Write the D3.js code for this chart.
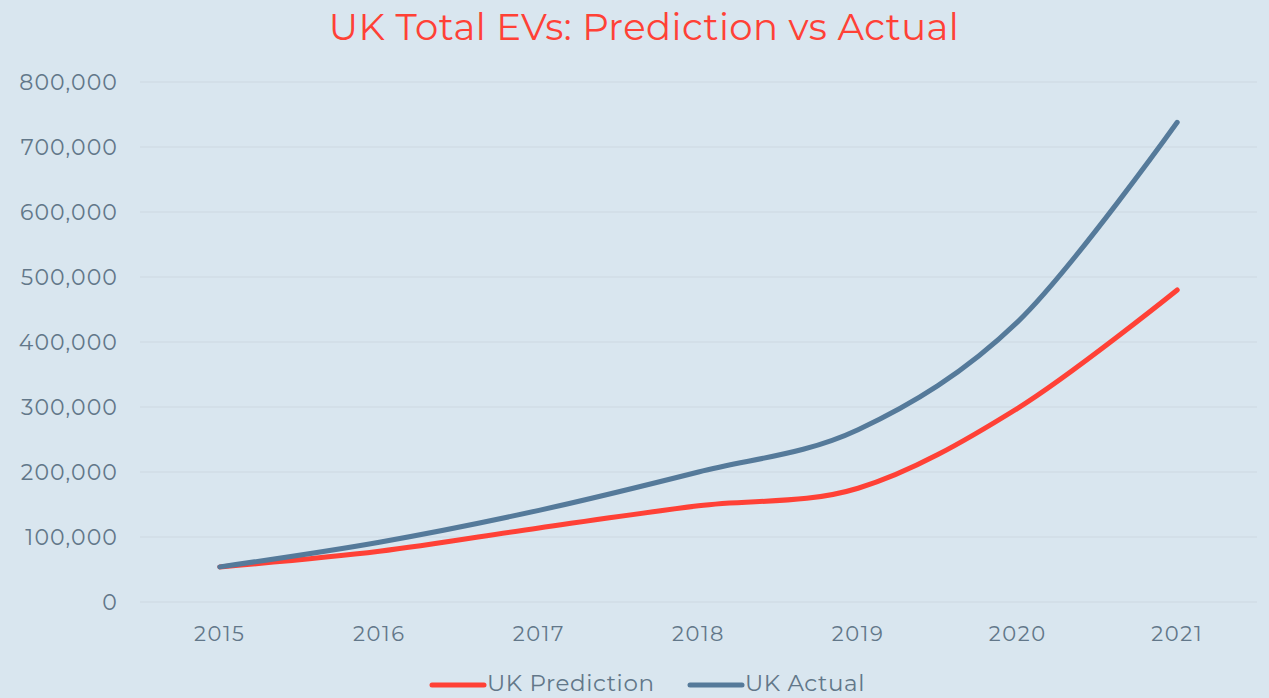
<!DOCTYPE html>
<html><head><meta charset="utf-8">
<script src="https://cdn.jsdelivr.net/npm/d3@7"></script>
<style>html,body{margin:0;padding:0;background:#d9e6ef;overflow:hidden}</style>
</head><body><svg id="c" width="1269" height="698"></svg>
<script>
const years = ["2015","2016","2017","2018","2019","2020","2021"];
const prediction = [54000, 78000, 114000, 148000, 175000, 298000, 480000];
const actual = [54000, 92000, 141000, 200000, 265000, 431000, 738000];
const yTicks = [0,100000,200000,300000,400000,500000,600000,700000,800000];
const seriesNames = ["UK Prediction","UK Actual"];
const colors = ["#ff4136","#557a9a"];

const svg = d3.select("#c");
const W=1269,H=698;
svg.append("rect").attr("width",W).attr("height",H).attr("fill","#d9e6ef");
const font = "Montserrat, 'Noto Sans', sans-serif";
const x = d3.scaleBand().domain(years).range([140,1257]);
const y = d3.scaleLinear().domain([0,800000]).range([602,82]);

// gridlines
svg.append("g").selectAll("line").data(yTicks).join("line")
  .attr("x1",140).attr("x2",1257).attr("y1",d=>y(d)).attr("y2",d=>y(d))
  .attr("stroke","#d0dde6").attr("stroke-width",1.5);

// y axis
const yAxis = d3.axisLeft(y).tickValues(yTicks).tickFormat(d3.format(",")).tickSize(0).tickPadding(0);
const gy = svg.append("g").attr("transform","translate(118,0)").call(yAxis);
gy.select(".domain").remove();
gy.selectAll("text").attr("font-family",font).attr("font-size",22).attr("letter-spacing",1.1).attr("fill","#627789");

// x axis
const xAxis = d3.axisBottom(x).tickSize(0).tickPadding(0);
const gx = svg.append("g").attr("transform","translate(0,626)").call(xAxis);
gx.select(".domain").remove();
gx.selectAll("text").attr("font-family",font).attr("font-size",21).attr("letter-spacing",1.6).attr("fill","#627789").attr("dy","0.71em");

const line = d3.line().x((d,i)=>x(years[i])+x.bandwidth()/2).y(d=>y(d)).curve(d3.curveCatmullRom.alpha(0));
[prediction, actual].forEach((s,i)=>{
  svg.append("path").attr("d",line(s)).attr("fill","none").attr("stroke",colors[i])
    .attr("stroke-width",5).attr("stroke-linecap","round").attr("stroke-linejoin","round");
});

// title
svg.append("text").attr("x",644).attr("y",40).attr("text-anchor","middle")
  .attr("font-family",font).attr("font-size",37).attr("letter-spacing",0.45).attr("fill","#ff4136")
  .text("UK Total EVs: Prediction vs Actual");

// legend
const leg = [{x:430},{x:688}];
seriesNames.forEach((n,i)=>{
  const g = svg.append("g");
  g.append("line").attr("x1",leg[i].x+2).attr("x2",leg[i].x+54).attr("y1",685).attr("y2",685)
    .attr("stroke",colors[i]).attr("stroke-width",5).attr("stroke-linecap","round");
  g.append("text").attr("x",leg[i].x+57).attr("y",691).attr("font-family",font).attr("font-size",23)
    .attr("letter-spacing",0.6).attr("fill","#627789").text(n);
});
</script></body></html>
